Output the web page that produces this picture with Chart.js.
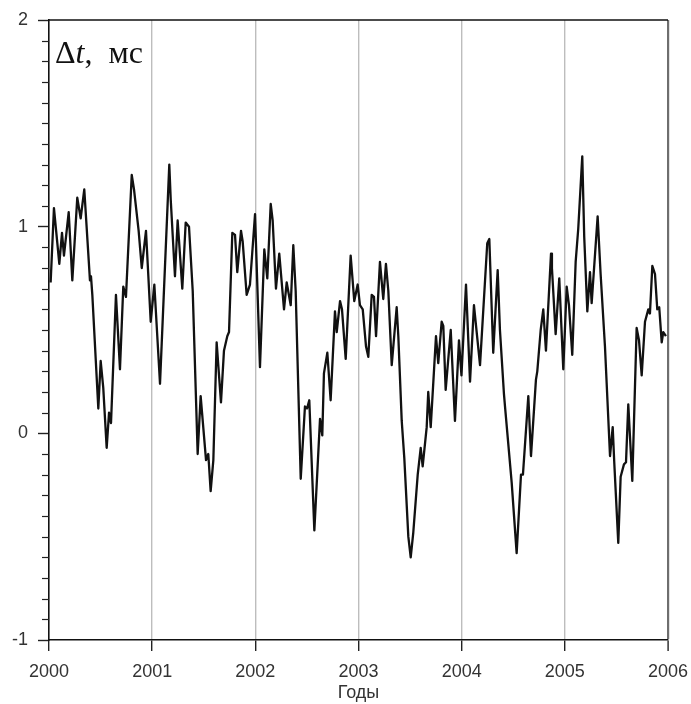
<!DOCTYPE html>
<html>
<head>
<meta charset="utf-8">
<script src="https://cdn.jsdelivr.net/npm/chart.js@4.4.1/dist/chart.umd.min.js"></script>
<style>
html,body{margin:0;padding:0;background:#fff;}
canvas{display:block;}
</style>
</head>
<body>
<canvas id="c" width="691" height="704"></canvas>
<script>
// Decimal year of each reading
const years = [
2000.016,2000.048,2000.100,2000.126,2000.145,2000.191,2000.226,2000.274,2000.307,2000.342,
2000.397,2000.407,2000.420,2000.478,2000.501,2000.526,2000.559,2000.582,2000.601,2000.649,
2000.688,2000.720,2000.746,2000.802,2000.824,2000.869,2000.899,2000.940,2000.986,2001.021,
2001.076,2001.166,2001.180,2001.221,2001.247,2001.292,2001.325,2001.357,2001.393,2001.441,
2001.470,2001.522,2001.544,2001.567,2001.593,2001.625,2001.667,2001.696,2001.728,2001.745,
2001.777,2001.803,2001.825,2001.861,2001.877,2001.916,2001.948,2001.997,2002.045,2002.087,
2002.116,2002.149,2002.168,2002.200,2002.232,2002.278,2002.304,2002.343,2002.368,2002.391,
2002.440,2002.481,2002.501,2002.523,2002.572,2002.627,2002.649,2002.665,2002.698,2002.730,
2002.772,2002.789,2002.821,2002.840,2002.876,2002.924,2002.959,2002.992,2003.014,2003.041,
2003.073,2003.095,2003.128,2003.150,2003.170,2003.208,2003.240,2003.266,2003.289,2003.322,
2003.370,2003.386,2003.419,2003.444,2003.483,2003.506,2003.531,2003.574,2003.603,2003.622,
2003.661,2003.676,2003.700,2003.751,2003.773,2003.806,2003.822,2003.845,2003.894,2003.935,
2003.974,2003.998,2004.042,2004.081,2004.119,2004.178,2004.210,2004.248,2004.268,2004.306,
2004.349,2004.371,2004.410,2004.420,2004.485,2004.533,2004.575,2004.594,2004.646,2004.672,
2004.720,2004.733,2004.766,2004.791,2004.817,2004.866,2004.875,2004.911,2004.946,2004.985,
2005.018,2005.040,2005.072,2005.105,2005.130,2005.169,2005.188,2005.218,2005.244,2005.260,
2005.318,2005.347,2005.389,2005.438,2005.464,2005.479,2005.518,2005.541,2005.573,2005.593,
2005.615,2005.654,2005.696,2005.719,2005.745,2005.777,2005.809,2005.825,2005.848,2005.874,
2005.896,2005.915,2005.939,2005.954,2005.980
];
// Δt, ms
const delta = [
0.73,1.09,0.82,0.97,0.86,1.07,0.74,1.14,1.04,1.18,
0.74,0.76,0.67,0.12,0.35,0.22,-0.07,0.10,0.05,0.67,
0.31,0.71,0.66,1.25,1.18,0.98,0.80,0.98,0.54,0.72,
0.24,1.30,1.13,0.76,1.03,0.70,1.02,1.00,0.69,-0.10,
0.18,-0.13,-0.10,-0.28,-0.13,0.44,0.15,0.40,0.47,0.49,
0.97,0.96,0.78,0.98,0.93,0.67,0.72,1.06,0.32,0.89,
0.75,1.11,1.03,0.70,0.87,0.60,0.73,0.62,0.91,0.69,
-0.22,0.13,0.12,0.16,-0.47,0.07,-0.01,0.29,0.39,0.16,
0.59,0.49,0.64,0.60,0.36,0.86,0.64,0.72,0.62,0.60,
0.42,0.37,0.67,0.66,0.47,0.83,0.65,0.82,0.69,0.33,
0.61,0.47,0.06,-0.12,-0.50,-0.60,-0.48,-0.20,-0.07,-0.16,
0.03,0.20,0.03,0.47,0.34,0.54,0.52,0.21,0.50,0.06,
0.45,0.28,0.72,0.25,0.62,0.33,0.60,0.92,0.94,0.39,
0.79,0.50,0.19,0.13,-0.24,-0.58,-0.20,-0.20,0.18,-0.11,
0.26,0.30,0.50,0.60,0.40,0.87,0.80,0.48,0.75,0.31,
0.71,0.62,0.38,0.83,0.99,1.34,0.95,0.59,0.78,0.63,
1.05,0.77,0.42,-0.11,0.03,-0.14,-0.53,-0.21,-0.15,-0.14,
0.14,-0.23,0.51,0.45,0.28,0.54,0.60,0.58,0.81,0.77,
0.60,0.61,0.44,0.49,0.47
];
const yearTicks = [2000,2001,2002,2003,2004,2005,2006];
const valueTicks = [-1,0,1,2];
const xTitle = 'Годы';

const points = years.map((t,i)=>({x:t,y:delta[i]}));

const frame = {
  id:'frame',
  afterDraw(chart){
    const ctx = chart.ctx, a = chart.chartArea, ys = chart.scales.y;
    ctx.save();
    // minor ticks on the value axis
    ctx.strokeStyle = '#222'; ctx.lineWidth = 1.2;
    for(let k=-9;k<=19;k++){
      if(k%10===0) continue;
      const py = Math.round(ys.getPixelForValue(k/10))+0.5;
      ctx.beginPath(); ctx.moveTo(a.left-7,py); ctx.lineTo(a.left,py); ctx.stroke();
    }
    // top border
    ctx.strokeStyle = '#111'; ctx.lineWidth = 1.6;
    ctx.beginPath(); ctx.moveTo(a.left,a.top); ctx.lineTo(a.right,a.top); ctx.stroke();
    // Δt, мс label
    ctx.fillStyle = '#111'; ctx.textBaseline = 'alphabetic';
    let x = a.left + 6; const y = a.top + 43;
    ctx.font = '32px "Liberation Serif"';
    ctx.fillText('\u0394',x,y); x += ctx.measureText('\u0394').width;
    ctx.font = 'italic 32px "Liberation Serif"';
    ctx.fillText('t',x,y); x += ctx.measureText('t').width;
    ctx.font = '32px "Liberation Serif"';
    ctx.fillText(',  мс',x,y);
    ctx.restore();
  }
};

new Chart(document.getElementById('c'),{
  type:'line',
  data:{datasets:[{
    data:points,
    borderColor:'#111',
    borderWidth:2.3,
    pointRadius:0,
    tension:0,
    borderJoinStyle:'round',
    fill:false
  }]},
  options:{
    responsive:false,
    animation:false,
    events:[],
    layout:{padding:{top:20,right:23,left:0,bottom:0}},
    plugins:{legend:{display:false},tooltip:{enabled:false}},
    scales:{
      x:{
        type:'linear',min:2000,max:2006,
        afterBuildTicks(s){ s.ticks = yearTicks.map(v=>({value:v})); },
        afterFit(s){ s.height = 64; s.paddingRight = 0; s.paddingLeft = 0; },
        ticks:{color:'#333',font:{family:'"Liberation Sans"',size:18},padding:10,callback:v=>String(v),maxRotation:0},
        grid:{
          drawOnChartArea:true,drawTicks:true,tickLength:11,
          color:c=> c.tick && c.tick.value===2006 ? '#6e6e6e' : (c.tick && c.tick.value===2000 ? 'rgba(0,0,0,0)' : '#bdbdbd'),
          lineWidth:c=> c.tick && c.tick.value===2006 ? 2.2 : 1.4,
          tickColor:'#222',tickWidth:1.4
        },
        border:{display:true,color:'#111',width:1.6},
        title:{display:true,text:xTitle,color:'#333',font:{family:'"Liberation Sans"',size:18},padding:{top:0,bottom:0}}
      },
      y:{
        min:-1,max:2,
        afterBuildTicks(s){ s.ticks = valueTicks.map(v=>({value:v})); },
        afterFit(s){ s.width = 49; s.paddingTop = 0; s.paddingBottom = 0; },
        ticks:{color:'#333',font:{family:'"Liberation Sans"',size:18},padding:10,callback:v=>String(v)},
        grid:{drawOnChartArea:false,drawTicks:true,tickLength:11,tickColor:'#222',tickWidth:1.4},
        border:{display:true,color:'#111',width:1.6}
      }
    }
  },
  plugins:[frame]
});
</script>
</body>
</html>
